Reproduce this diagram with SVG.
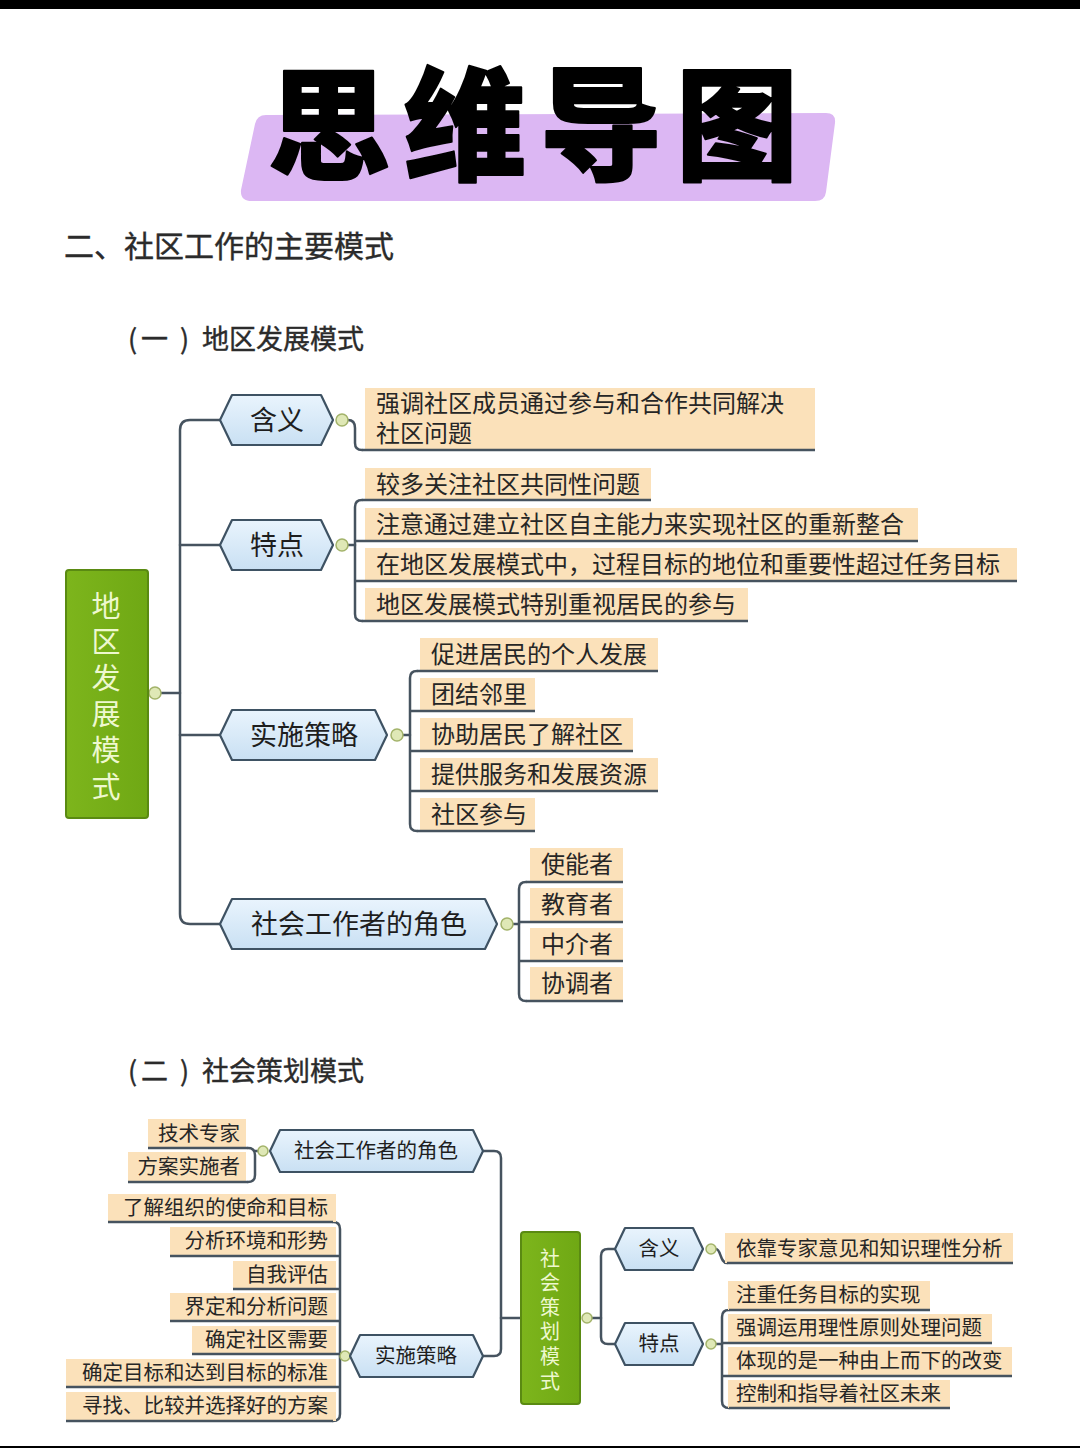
<svg xmlns="http://www.w3.org/2000/svg" width="1080" height="1448" viewBox="0 0 1080 1448">
<defs>
<linearGradient id="hexg" x1="0" y1="0" x2="0" y2="1">
<stop offset="0" stop-color="#e9f4fd"/>
<stop offset="1" stop-color="#c9e0f3"/>
</linearGradient>
<linearGradient id="rootg" x1="0" y1="0" x2="1" y2="0">
<stop offset="0" stop-color="#7db51c"/>
<stop offset="1" stop-color="#6fa814"/>
</linearGradient>
<style>
.title{font-family:"Noto Sans CJK SC",sans-serif;font-weight:900;font-size:122px;fill:#000;stroke:#000;stroke-width:2;stroke-linejoin:round}
.h1{font-family:"Noto Sans CJK SC",sans-serif;font-size:30px;fill:#2b2b2b;stroke:#2b2b2b;stroke-width:0.4}
.h2{font-family:"Noto Sans CJK SC",sans-serif;font-size:27px;fill:#2b2b2b;stroke:#2b2b2b;stroke-width:0.4}
.root{fill:url(#rootg);stroke:#5a8a12;stroke-width:2}
.roottxt{font-family:"Noto Sans CJK SC",sans-serif;fill:#eef8cf;writing-mode:vertical-rl;text-orientation:upright}
.hex{fill:url(#hexg);stroke:#3e5263;stroke-width:2.2;stroke-linejoin:round}
.hextxt{font-family:"Noto Sans CJK SC",sans-serif;fill:#1e1e1e;text-anchor:middle}
.leaf{fill:#fbe1ba}
.ul{stroke:#46535f;stroke-width:2.5;fill:none}
.leaftxt{font-family:"Noto Sans CJK SC",sans-serif;fill:#262626}
.t1{font-size:24px}
.t2{font-size:20.5px}
.end{text-anchor:end}
.con{stroke:#46535f;stroke-width:2.5;fill:none;stroke-linecap:round}
.mk{fill:#dfe8b6;stroke:#a3b36a;stroke-width:1.5}
</style>
</defs>
<rect x="0" y="0" width="1080" height="1448" fill="#ffffff"/>
<rect x="0" y="0" width="1080" height="9" fill="#000"/>
<rect x="0" y="1446" width="1080" height="2" fill="#000"/>

<g id="title">
<path d="M266,115 L826,113 Q836,113 835,123 L826,192 Q825,201 815,201 L252,201 Q240,201 241,190 L255,124 Q257,115 266,115 Z" fill="#dcb7f3"/>
<text x="540" y="170" class="title" text-anchor="middle" letter-spacing="14">思维导图</text>
</g>

<g id="headings">
<text x="64" y="257" class="h1">二、社区工作的主要模式</text>
<text x="128" y="349" class="h2">(</text>
<text x="141" y="349" class="h2">一</text>
<text x="180" y="349" class="h2">)</text>
<text x="202" y="349" class="h2">地区发展模式</text>
<text x="128" y="1081" class="h2">(</text>
<text x="141" y="1081" class="h2">二</text>
<text x="180" y="1081" class="h2">)</text>
<text x="202" y="1081" class="h2">社会策划模式</text>
</g>

<g id="connectors">
<path class="con" d="M148,693 H180"/>
<path class="con" d="M220,420 H190 Q180,420 180,430 V914 Q180,924 190,924 H220"/>
<path class="con" d="M180,545 H220"/>
<path class="con" d="M180,735 H220"/>
<path class="con" d="M348,420 Q355,420 355,428 V443 Q355,450 362,450"/>
<path class="con" d="M362,500 Q355,500 355,507 V614 Q355,621 362,621"/>
<path class="con" d="M348,545 H355"/>
<path class="con" d="M417,671 Q410,671 410,678 V824 Q410,831 417,831"/>
<path class="con" d="M403,735 H410"/>
<path class="con" d="M526,882 Q519,882 519,889 V994 Q519,1001 526,1001"/>
<path class="con" d="M513,924 H519"/>
<path class="con" d="M483,1151 H494 Q501,1151 501,1158 V1349 Q501,1356 494,1356 H483"/>
<path class="con" d="M501,1318 H521"/>
<path class="con" d="M248,1148 Q255,1148 255,1155 V1175 Q255,1182 248,1182"/>
<path class="con" d="M258,1151 H255"/>
<path class="con" d="M333,1222 Q340,1222 340,1229 V1414 Q340,1421 333,1421"/>
<path class="con" d="M340,1356 H341"/>
<path class="con" d="M592,1318 H601"/>
<path class="con" d="M615,1249 H608 Q601,1249 601,1256 V1337 Q601,1344 608,1344 H615"/>
<path class="con" d="M716,1249 C721,1249 720,1263 727,1263"/>
<path class="con" d="M729,1310 Q722,1310 722,1317 V1401 Q722,1408 729,1408"/>
<path class="con" d="M716,1344 H722"/>
</g>

<g id="markers">
<circle class="mk" cx="155" cy="693" r="6"/>
<circle class="mk" cx="342" cy="420" r="6"/>
<circle class="mk" cx="342" cy="545" r="6"/>
<circle class="mk" cx="397" cy="735" r="6"/>
<circle class="mk" cx="507" cy="924" r="6"/>
<circle class="mk" cx="263" cy="1151" r="5"/>
<circle class="mk" cx="345" cy="1356" r="5"/>
<circle class="mk" cx="587" cy="1318" r="5"/>
<circle class="mk" cx="711" cy="1249" r="5"/>
<circle class="mk" cx="711" cy="1344" r="5"/>
</g>

<g id="root1">
<rect class="root" x="66" y="570" width="82" height="248" rx="3"/>
<text class="roottxt" x="106" y="591" font-size="29" letter-spacing="7.2">地区发展模式</text>
</g>

<g id="hex1-hanyi">
<path class="hex" d="M220,420 L232,395 L321,395 L333,420 L321,445 L232,445 Z"/>
<text class="hextxt" x="277" y="430" font-size="27">含义</text>
</g>
<g id="hex1-tedian">
<path class="hex" d="M220,545 L232,520 L321,520 L333,545 L321,570 L232,570 Z"/>
<text class="hextxt" x="277" y="555" font-size="27">特点</text>
</g>
<g id="hex1-celue">
<path class="hex" d="M220,735 L232,710 L375,710 L387,735 L375,760 L232,760 Z"/>
<text class="hextxt" x="304" y="745" font-size="27">实施策略</text>
</g>
<g id="hex1-juese">
<path class="hex" d="M220,924 L232,899 L485,899 L497,924 L485,949 L232,949 Z"/>
<text class="hextxt" x="359" y="934" font-size="27">社会工作者的角色</text>
</g>

<g id="leaf1-hanyi">
<rect class="leaf" x="365" y="388" width="450" height="62"/>
<path class="ul" d="M362,450 H815"/>
<text class="leaftxt t1"><tspan x="376" y="412">强调社区成员通过参与和合作共同解决</tspan><tspan x="376" y="442">社区问题</tspan></text>
</g>
<g id="leaf1-td1">
<rect class="leaf" x="365" y="468" width="286" height="32"/>
<path class="ul" d="M362,500 H651"/>
<text class="leaftxt t1" x="376" y="493">较多关注社区共同性问题</text>
</g>
<g id="leaf1-td2">
<rect class="leaf" x="365" y="508" width="553" height="33"/>
<path class="ul" d="M355,541 H918"/>
<text class="leaftxt t1" x="376" y="533">注意通过建立社区自主能力来实现社区的重新整合</text>
</g>
<g id="leaf1-td3">
<rect class="leaf" x="365" y="548" width="652" height="33"/>
<path class="ul" d="M355,581 H1017"/>
<text class="leaftxt t1" x="376" y="573">在地区发展模式中，过程目标的地位和重要性超过任务目标</text>
</g>
<g id="leaf1-td4">
<rect class="leaf" x="365" y="588" width="383" height="33"/>
<path class="ul" d="M362,621 H748"/>
<text class="leaftxt t1" x="376" y="613">地区发展模式特别重视居民的参与</text>
</g>

<g id="leaf1-cl1">
<rect class="leaf" x="420" y="638" width="238" height="33"/>
<path class="ul" d="M417,671 H658"/>
<text class="leaftxt t1" x="431" y="663">促进居民的个人发展</text>
</g>
<g id="leaf1-cl2">
<rect class="leaf" x="420" y="678" width="115" height="33"/>
<path class="ul" d="M410,711 H535"/>
<text class="leaftxt t1" x="431" y="703">团结邻里</text>
</g>
<g id="leaf1-cl3">
<rect class="leaf" x="420" y="718" width="213" height="33"/>
<path class="ul" d="M410,751 H633"/>
<text class="leaftxt t1" x="431" y="743">协助居民了解社区</text>
</g>
<g id="leaf1-cl4">
<rect class="leaf" x="420" y="758" width="238" height="33"/>
<path class="ul" d="M410,791 H658"/>
<text class="leaftxt t1" x="431" y="783">提供服务和发展资源</text>
</g>
<g id="leaf1-cl5">
<rect class="leaf" x="420" y="798" width="115" height="33"/>
<path class="ul" d="M417,831 H535"/>
<text class="leaftxt t1" x="431" y="823">社区参与</text>
</g>

<g id="leaf1-js1">
<rect class="leaf" x="530" y="848" width="93" height="34"/>
<path class="ul" d="M526,882 H623"/>
<text class="leaftxt t1" x="541" y="873">使能者</text>
</g>
<g id="leaf1-js2">
<rect class="leaf" x="530" y="888" width="93" height="34"/>
<path class="ul" d="M519,922 H623"/>
<text class="leaftxt t1" x="541" y="913">教育者</text>
</g>
<g id="leaf1-js3">
<rect class="leaf" x="530" y="928" width="93" height="33"/>
<path class="ul" d="M519,961 H623"/>
<text class="leaftxt t1" x="541" y="953">中介者</text>
</g>
<g id="leaf1-js4">
<rect class="leaf" x="530" y="967" width="93" height="34"/>
<path class="ul" d="M526,1001 H623"/>
<text class="leaftxt t1" x="541" y="992">协调者</text>
</g>

<g id="root2">
<rect class="root" x="521" y="1232" width="59" height="172" rx="3"/>
<text class="roottxt" x="550" y="1248" font-size="20" letter-spacing="4.6">社会策划模式</text>
</g>

<g id="hex2-juese">
<path class="hex" d="M270,1151 L280,1130 L473,1130 L483,1151 L473,1172 L280,1172 Z"/>
<text class="hextxt" x="376" y="1158" font-size="20.5">社会工作者的角色</text>
</g>
<g id="hex2-celue">
<path class="hex" d="M350,1356 L360,1335 L473,1335 L483,1356 L473,1377 L360,1377 Z"/>
<text class="hextxt" x="416" y="1363" font-size="20.5">实施策略</text>
</g>
<g id="hex2-hanyi">
<path class="hex" d="M615,1249 L625,1228 L693,1228 L703,1249 L693,1270 L625,1270 Z"/>
<text class="hextxt" x="659" y="1256" font-size="20.5">含义</text>
</g>
<g id="hex2-tedian">
<path class="hex" d="M615,1344 L625,1323 L693,1323 L703,1344 L693,1365 L625,1365 Z"/>
<text class="hextxt" x="659" y="1351" font-size="20.5">特点</text>
</g>

<g id="leaf2-js1">
<rect class="leaf" x="148" y="1119" width="98" height="29"/>
<path class="ul" d="M148,1148 H248"/>
<text class="leaftxt t2 end" x="240" y="1141">技术专家</text>
</g>
<g id="leaf2-js2">
<rect class="leaf" x="128" y="1152" width="118" height="30"/>
<path class="ul" d="M128,1182 H248"/>
<text class="leaftxt t2 end" x="240" y="1174">方案实施者</text>
</g>

<g id="leaf2-cl1">
<rect class="leaf" x="108" y="1194" width="228" height="28"/>
<path class="ul" d="M108,1222 H333"/>
<text class="leaftxt t2 end" x="328" y="1215">了解组织的使命和目标</text>
</g>
<g id="leaf2-cl2">
<rect class="leaf" x="170" y="1227" width="166" height="29"/>
<path class="ul" d="M170,1256 H340"/>
<text class="leaftxt t2 end" x="328" y="1248">分析环境和形势</text>
</g>
<g id="leaf2-cl3">
<rect class="leaf" x="233" y="1261" width="103" height="28"/>
<path class="ul" d="M233,1289 H340"/>
<text class="leaftxt t2 end" x="328" y="1282">自我评估</text>
</g>
<g id="leaf2-cl4">
<rect class="leaf" x="170" y="1293" width="166" height="28"/>
<path class="ul" d="M170,1321 H340"/>
<text class="leaftxt t2 end" x="328" y="1314">界定和分析问题</text>
</g>
<g id="leaf2-cl5">
<rect class="leaf" x="192" y="1326" width="144" height="28"/>
<path class="ul" d="M192,1354 H340"/>
<text class="leaftxt t2 end" x="328" y="1347">确定社区需要</text>
</g>
<g id="leaf2-cl6">
<rect class="leaf" x="66" y="1359" width="270" height="28"/>
<path class="ul" d="M66,1387 H340"/>
<text class="leaftxt t2 end" x="328" y="1380">确定目标和达到目标的标准</text>
</g>
<g id="leaf2-cl7">
<rect class="leaf" x="66" y="1392" width="270" height="29"/>
<path class="ul" d="M66,1421 H333"/>
<text class="leaftxt t2 end" x="328" y="1413">寻找、比较并选择好的方案</text>
</g>

<g id="leaf2-hanyi">
<rect class="leaf" x="725" y="1233" width="288" height="30"/>
<path class="ul" d="M727,1263 H1013"/>
<text class="leaftxt t2" x="736" y="1256">依靠专家意见和知识理性分析</text>
</g>
<g id="leaf2-td1">
<rect class="leaf" x="728" y="1281" width="202" height="29"/>
<path class="ul" d="M729,1310 H930"/>
<text class="leaftxt t2" x="736" y="1302">注重任务目标的实现</text>
</g>
<g id="leaf2-td2">
<rect class="leaf" x="728" y="1314" width="264" height="29"/>
<path class="ul" d="M722,1343 H992"/>
<text class="leaftxt t2" x="736" y="1335">强调运用理性原则处理问题</text>
</g>
<g id="leaf2-td3">
<rect class="leaf" x="728" y="1347" width="284" height="29"/>
<path class="ul" d="M722,1376 H1012"/>
<text class="leaftxt t2" x="736" y="1368">体现的是一种由上而下的改变</text>
</g>
<g id="leaf2-td4">
<rect class="leaf" x="728" y="1380" width="222" height="28"/>
<path class="ul" d="M729,1408 H950"/>
<text class="leaftxt t2" x="736" y="1401">控制和指导着社区未来</text>
</g>
</svg>
